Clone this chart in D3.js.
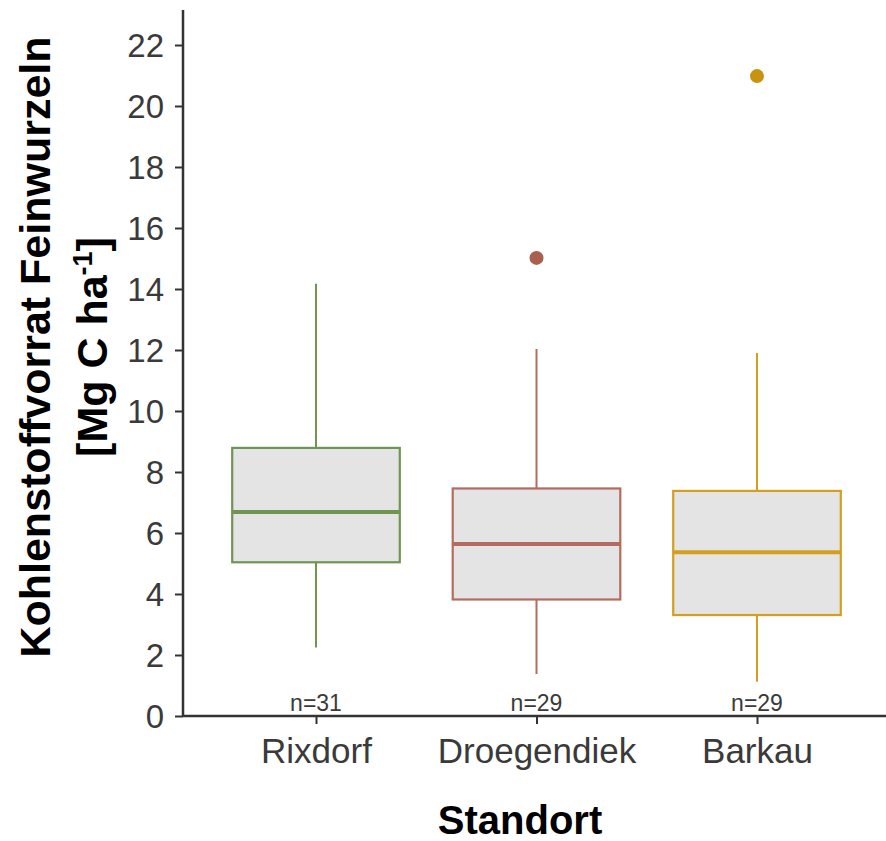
<!DOCTYPE html>
<html lang="de">
<head>
    <meta charset="UTF-8">
    <title>Kohlenstoffvorrat Feinwurzeln</title>
    <script src="https://cdn.jsdelivr.net/npm/d3@7"></script>
    <style>
        body { margin: 0; background: #fff; }
        svg { font-family: "Liberation Sans", Arial, sans-serif; }
    </style>
</head>
<body>
    <svg id="chart" width="886" height="841"></svg>

    <script>
    "use strict";

    // Werte
    var standorte = ["Rixdorf", "Droegendiek", "Barkau"];
    var unterWhisker = [2.25, 1.38, 1.12];
    var q1 = [5.04, 3.82, 3.31];
    var median = [6.69, 5.64, 5.37];
    var q3 = [8.79, 7.46, 7.38];
    var oberWhisker = [14.17, 12.03, 11.9];
    var ausreisser = [[], [15.02], [20.98]];
    var nWerte = [31, 29, 29];
    var farben = ["#6f9651", "#b36c5e", "#d39f1c"];
    var punktFarben = ["#6f9651", "#a9604f", "#c8940f"];
    var yTicks = [0, 2, 4, 6, 8, 10, 12, 14, 16, 18, 20, 22];

    var svg = d3.select("#chart");

    var y = d3.scaleLinear().domain([0, 22]).range([716, 45]);
    var x = d3.scalePoint().domain(standorte).range([316, 757]);
    var boxBreite = x.step() * 0.76;

    // Achsenlinien
    svg.append("line")
        .attr("x1", 183).attr("x2", 183)
        .attr("y1", 10).attr("y2", y(0))
        .attr("stroke", "#333").attr("stroke-width", 2.5);
    svg.append("line")
        .attr("x1", 183).attr("x2", 886)
        .attr("y1", y(0)).attr("y2", y(0))
        .attr("stroke", "#333").attr("stroke-width", 2.5);

    var yAchse = svg.append("g")
        .attr("transform", "translate(183,0)")
        .call(d3.axisLeft(y).tickValues(yTicks).tickSize(8).tickPadding(11));
    yAchse.select(".domain").remove();
    yAchse.selectAll("line").attr("stroke", "#333").attr("stroke-width", 2);
    yAchse.selectAll("text")
        .attr("fill", "#3a3a3a")
        .style("font-size", "33px")
        .attr("dy", "0.36em");

    var xAchse = svg.append("g")
        .attr("transform", "translate(0," + y(0) + ")")
        .call(d3.axisBottom(x).tickSize(8).tickPadding(14));
    xAchse.select(".domain").remove();
    xAchse.selectAll("line").attr("stroke", "#333").attr("stroke-width", 2);
    xAchse.selectAll("text")
        .attr("fill", "#3a3a3a")
        .style("font-size", "35px")
        .attr("dy", "0.72em");

    // Boxplots
    var boxen = svg.append("g").selectAll("g")
        .data(standorte)
        .join("g");

    boxen.append("line")
        .attr("x1", function (d) { return x(d); })
        .attr("x2", function (d) { return x(d); })
        .attr("y1", function (d, i) { return y(oberWhisker[i]); })
        .attr("y2", function (d, i) { return y(unterWhisker[i]); })
        .attr("stroke", function (d, i) { return farben[i]; })
        .attr("stroke-width", 2);

    boxen.append("rect")
        .attr("x", function (d) { return x(d) - boxBreite / 2; })
        .attr("width", boxBreite)
        .attr("y", function (d, i) { return y(q3[i]); })
        .attr("height", function (d, i) { return y(q1[i]) - y(q3[i]); })
        .attr("fill", "#e4e4e4")
        .attr("stroke", function (d, i) { return farben[i]; })
        .attr("stroke-width", 2.2);

    boxen.append("line")
        .attr("x1", function (d) { return x(d) - boxBreite / 2; })
        .attr("x2", function (d) { return x(d) + boxBreite / 2; })
        .attr("y1", function (d, i) { return y(median[i]); })
        .attr("y2", function (d, i) { return y(median[i]); })
        .attr("stroke", function (d, i) { return farben[i]; })
        .attr("stroke-width", 4);

    boxen.each(function (d, i) {
        d3.select(this).selectAll("circle")
            .data(ausreisser[i])
            .join("circle")
            .attr("cx", x(d))
            .attr("cy", function (v) { return y(v); })
            .attr("r", 7)
            .attr("fill", punktFarben[i]);
    });

    boxen.append("text")
        .attr("x", function (d) { return x(d); })
        .attr("y", y(0) - 5)
        .attr("text-anchor", "middle")
        .attr("fill", "#3a3a3a")
        .style("font-size", "23px")
        .text(function (d, i) { return "n=" + nWerte[i]; });

    // Achsentitel
    svg.append("text")
        .attr("x", 520).attr("y", 834)
        .attr("text-anchor", "middle")
        .style("font-size", "40px").style("font-weight", "bold")
        .text("Standort");

    var yTitel = svg.append("text")
        .attr("transform", "translate(0,347) rotate(-90)")
        .attr("text-anchor", "middle")
        .style("font-size", "43px").style("font-weight", "bold");
    yTitel.append("tspan").attr("x", 0).attr("y", 50)
        .text("Kohlenstoffvorrat Feinwurzeln");
    var zeile2 = yTitel.append("tspan").attr("x", 0).attr("y", 107);
    zeile2.append("tspan").text("[Mg C ha");
    zeile2.append("tspan").attr("dy", -15).style("font-size", "27px").text("-1");
    zeile2.append("tspan").attr("dy", 15).text("]");
    </script>
</body>
</html>
